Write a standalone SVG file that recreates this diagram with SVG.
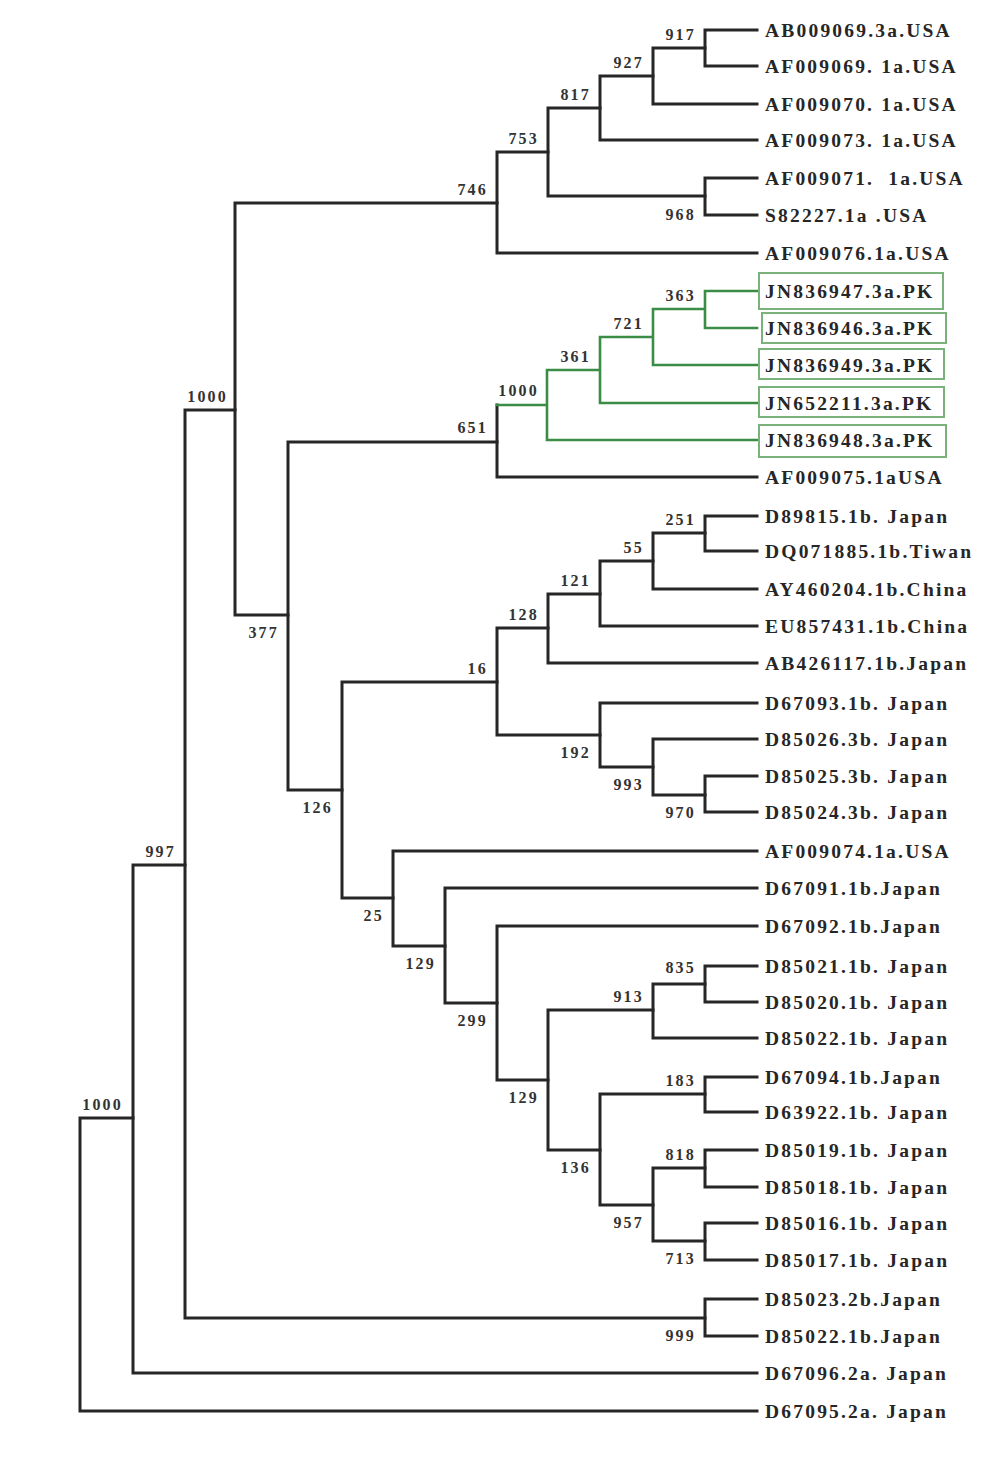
<svg xmlns="http://www.w3.org/2000/svg" width="1000" height="1465" viewBox="0 0 1000 1465">
<style>
.br{stroke:#262626;stroke-width:3;fill:none;stroke-linecap:square}
.gr{stroke:#3b8c45;stroke-width:2.6;fill:none;stroke-linecap:square}
.box{stroke:#79b27b;stroke-width:2;fill:none}
.lf{font-family:"Liberation Serif","Times New Roman",serif;font-size:19.5px;font-weight:bold;letter-spacing:2.2px;fill:#262626}
.bs{font-family:"Liberation Serif","Times New Roman",serif;font-size:16px;font-weight:bold;letter-spacing:2.2px;fill:#333;text-anchor:end}
</style>
<rect width="1000" height="1465" fill="#fff"/>
<g id="connectors">
<path class="br" d="M80,1118V1411H757M80,1118H133"/>
<path class="br" d="M133,865V1373H757M133,865H185"/>
<path class="br" d="M185,410V1318H705M185,410H235"/>
<path class="br" d="M235,203V615H288M235,203H497"/>
<path class="br" d="M497,152V253H757M497,152H548"/>
<path class="br" d="M548,108V196H705M548,108H600"/>
<path class="br" d="M600,76V140H757M600,76H653"/>
<path class="br" d="M653,48V104H757M653,48H705"/>
<path class="br" d="M705,30V66H757M705,30H757"/>
<path class="br" d="M705,178V215H757M705,178H757"/>
<path class="br" d="M288,442V790H342M288,442H497"/>
<path class="br" d="M497,405V477H757"/>
<path class="gr" d="M497,405H547M547,370V440H757M547,370H600M600,337V403H757M600,337H653M653,309V365H757M653,309H705M705,291V328H757M705,291H757"/>
<path class="br" d="M342,682V898H393M342,682H497"/>
<path class="br" d="M497,628V735H600M497,628H548"/>
<path class="br" d="M548,594V663H757M548,594H600"/>
<path class="br" d="M600,561V626H757M600,561H653"/>
<path class="br" d="M653,533V589H757M653,533H705"/>
<path class="br" d="M705,516V551H757M705,516H757"/>
<path class="br" d="M600,703V767H653M600,703H757"/>
<path class="br" d="M653,739V795H705M653,739H757"/>
<path class="br" d="M705,776V812H757M705,776H757"/>
<path class="br" d="M393,851V946H445M393,851H757"/>
<path class="br" d="M445,888V1003H497M445,888H757"/>
<path class="br" d="M497,926V1080H548M497,926H757"/>
<path class="br" d="M548,1010V1150H600M548,1010H653"/>
<path class="br" d="M653,984V1038H757M653,984H705"/>
<path class="br" d="M705,966V1002H757M705,966H757"/>
<path class="br" d="M600,1094V1205H653M600,1094H705"/>
<path class="br" d="M705,1077V1112H757M705,1077H757"/>
<path class="br" d="M653,1168V1241H705M653,1168H705"/>
<path class="br" d="M705,1150V1187H757M705,1150H757"/>
<path class="br" d="M705,1223V1260H757M705,1223H757"/>
<path class="br" d="M705,1299V1336H757M705,1299H757"/>
</g>
<g id="bootstrap">
<g id="n-root1000"><text class="bs" x="123" y="1110">1000</text></g>
<g id="n-997"><text class="bs" x="176" y="857">997</text></g>
<g id="n-1000a"><text class="bs" x="228" y="402">1000</text></g>
<g id="n-746"><text class="bs" x="488" y="195">746</text></g>
<g id="n-753"><text class="bs" x="539" y="144">753</text></g>
<g id="n-817"><text class="bs" x="591" y="100">817</text></g>
<g id="n-927"><text class="bs" x="644" y="68">927</text></g>
<g id="n-917"><text class="bs" x="696" y="40">917</text></g>
<g id="n-968"><text class="bs" x="696" y="220">968</text></g>
<g id="n-377"><text class="bs" x="279" y="638">377</text></g>
<g id="n-651"><text class="bs" x="488" y="433">651</text></g>
<g id="n-1000g"><text class="bs" x="539" y="396">1000</text></g>
<g id="n-361"><text class="bs" x="591" y="362">361</text></g>
<g id="n-721"><text class="bs" x="644" y="329">721</text></g>
<g id="n-363"><text class="bs" x="696" y="301">363</text></g>
<g id="n-126"><text class="bs" x="333" y="813">126</text></g>
<g id="n-16"><text class="bs" x="488" y="674">16</text></g>
<g id="n-128"><text class="bs" x="539" y="620">128</text></g>
<g id="n-121"><text class="bs" x="591" y="586">121</text></g>
<g id="n-55"><text class="bs" x="644" y="553">55</text></g>
<g id="n-251"><text class="bs" x="696" y="525">251</text></g>
<g id="n-192"><text class="bs" x="591" y="758">192</text></g>
<g id="n-993"><text class="bs" x="644" y="790">993</text></g>
<g id="n-970"><text class="bs" x="696" y="818">970</text></g>
<g id="n-25"><text class="bs" x="384" y="921">25</text></g>
<g id="n-129a"><text class="bs" x="436" y="969">129</text></g>
<g id="n-299"><text class="bs" x="488" y="1026">299</text></g>
<g id="n-913"><text class="bs" x="644" y="1002">913</text></g>
<g id="n-835"><text class="bs" x="696" y="973">835</text></g>
<g id="n-129b"><text class="bs" x="539" y="1103">129</text></g>
<g id="n-136"><text class="bs" x="591" y="1173">136</text></g>
<g id="n-183"><text class="bs" x="696" y="1086">183</text></g>
<g id="n-957"><text class="bs" x="644" y="1228">957</text></g>
<g id="n-818"><text class="bs" x="696" y="1160">818</text></g>
<g id="n-713"><text class="bs" x="696" y="1264">713</text></g>
<g id="n-999"><text class="bs" x="696" y="1341">999</text></g>
</g>
<g id="leaves">
<g id="L1"><text class="lf" x="765" y="37">AB009069.3a.USA</text></g>
<g id="L2"><text class="lf" x="765" y="73">AF009069. 1a.USA</text></g>
<g id="L3"><text class="lf" x="765" y="111">AF009070. 1a.USA</text></g>
<g id="L4"><text class="lf" x="765" y="147">AF009073. 1a.USA</text></g>
<g id="L5"><text class="lf" x="765" y="185" xml:space="preserve">AF009071.  1a.USA</text></g>
<g id="L6"><text class="lf" x="765" y="222">S82227.1a .USA</text></g>
<g id="L7"><text class="lf" x="765" y="260">AF009076.1a.USA</text></g>
<g id="L8"><rect class="box" x="759" y="273" width="184" height="36"/><text class="lf" x="765" y="298">JN836947.3a.PK</text></g>
<g id="L9"><rect class="box" x="762" y="313" width="184" height="30"/><text class="lf" x="765" y="335">JN836946.3a.PK</text></g>
<g id="L10"><rect class="box" x="759" y="349" width="185" height="30"/><text class="lf" x="765" y="372">JN836949.3a.PK</text></g>
<g id="L11"><rect class="box" x="759" y="387" width="185" height="30"/><text class="lf" x="765" y="410">JN652211.3a.PK</text></g>
<g id="L12"><rect class="box" x="759" y="425" width="187" height="32"/><text class="lf" x="765" y="447">JN836948.3a.PK</text></g>
<g id="L13"><text class="lf" x="765" y="484">AF009075.1aUSA</text></g>
<g id="L14"><text class="lf" x="765" y="523">D89815.1b. Japan</text></g>
<g id="L15"><text class="lf" x="765" y="558">DQ071885.1b.Tiwan</text></g>
<g id="L16"><text class="lf" x="765" y="596">AY460204.1b.China</text></g>
<g id="L17"><text class="lf" x="765" y="633">EU857431.1b.China</text></g>
<g id="L18"><text class="lf" x="765" y="670">AB426117.1b.Japan</text></g>
<g id="L19"><text class="lf" x="765" y="710">D67093.1b. Japan</text></g>
<g id="L20"><text class="lf" x="765" y="746">D85026.3b. Japan</text></g>
<g id="L21"><text class="lf" x="765" y="783">D85025.3b. Japan</text></g>
<g id="L22"><text class="lf" x="765" y="819">D85024.3b. Japan</text></g>
<g id="L23"><text class="lf" x="765" y="858">AF009074.1a.USA</text></g>
<g id="L24"><text class="lf" x="765" y="895">D67091.1b.Japan</text></g>
<g id="L25"><text class="lf" x="765" y="933">D67092.1b.Japan</text></g>
<g id="L26"><text class="lf" x="765" y="973">D85021.1b. Japan</text></g>
<g id="L27"><text class="lf" x="765" y="1009">D85020.1b. Japan</text></g>
<g id="L28"><text class="lf" x="765" y="1045">D85022.1b. Japan</text></g>
<g id="L29"><text class="lf" x="765" y="1084">D67094.1b.Japan</text></g>
<g id="L30"><text class="lf" x="765" y="1119">D63922.1b. Japan</text></g>
<g id="L31"><text class="lf" x="765" y="1157">D85019.1b. Japan</text></g>
<g id="L32"><text class="lf" x="765" y="1194">D85018.1b. Japan</text></g>
<g id="L33"><text class="lf" x="765" y="1230">D85016.1b. Japan</text></g>
<g id="L34"><text class="lf" x="765" y="1267">D85017.1b. Japan</text></g>
<g id="L35"><text class="lf" x="765" y="1306">D85023.2b.Japan</text></g>
<g id="L36"><text class="lf" x="765" y="1343">D85022.1b.Japan</text></g>
<g id="L37"><text class="lf" x="765" y="1380">D67096.2a. Japan</text></g>
<g id="L38"><text class="lf" x="765" y="1418">D67095.2a. Japan</text></g>
</g>
</svg>
